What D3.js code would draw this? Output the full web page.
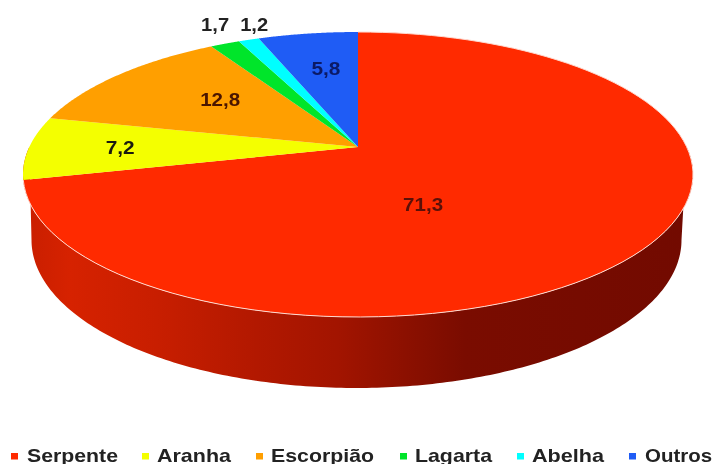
<!DOCTYPE html>
<html>
<head>
<meta charset="utf-8">
<script src="https://cdn.jsdelivr.net/npm/d3@7"></script>
<style>
body { margin: 0; background: #fff; }
svg { filter: blur(0.5px); }
text { font-family: "Liberation Sans", Arial, sans-serif; font-weight: bold; }
</style>
</head>
<body>
<div id="pie"></div>
<script>
var categories = ["Serpente", "Aranha", "Escorpião", "Lagarta", "Abelha", "Outros"];
var values = [71.3, 7.2, 12.8, 1.7, 1.2, 5.8];
var valueLabels = ["71,3", "7,2", "12,8", "1,7", "1,2", "5,8"];
var colors = ["#ff2a00", "#f4ff00", "#ff9f00", "#00e52a", "#00ffff", "#1f5cf5"];
var labelColors = ["#5a1008", "#1a1a10", "#4a1500", "#222", "#222", "#0b1a66"];

var width = 714, height = 464;
var cx = 358, cy = 174.5, rx = 335, ry = 142.5;
var tilt = -0.193; // perspective: moves the pie apex above the middle of the ellipse

var svg = d3.select("#pie").append("svg")
	.attr("width", width)
	.attr("height", height);

var x = d3.scaleLinear().domain([-1, 1]).range([cx - rx, cx + rx]);
var y = d3.scaleLinear().domain([-1, 1]).range([cy - ry, cy + ry]);

// angle + radius on the flat disc -> pixel on the tilted disc
function project(angle, r) {
	var u = r * Math.sin(angle), v = -r * Math.cos(angle);
	var d = 1 + tilt * v;
	return [x(u * Math.sqrt(1 - tilt * tilt) / d), y((v + tilt) / d)];
}

var pie = d3.pie().sort(null).value(function(d) { return d; })(values);
var line = d3.line();

function slicePath(d) {
	var pts = [project(0, 0)];
	d3.range(0, 101).forEach(function(i) {
		pts.push(project(d.startAngle + (d.endAngle - d.startAngle) * i / 100, 1));
	});
	return line(pts) + "Z";
}

var grad = svg.append("defs").append("linearGradient")
	.attr("id", "wall")
	.attr("gradientUnits", "userSpaceOnUse")
	.attr("x1", 23).attr("x2", 693).attr("y1", 0).attr("y2", 0);
[[0, "#c81e00"], [0.07, "#d62200"], [0.2, "#c81e00"], [0.35, "#b21800"], [0.47, "#a21400"], [0.57, "#8c1000"], [0.66, "#7a0c00"], [1, "#720a00"]].forEach(function(s) {
	grad.append("stop").attr("offset", s[0]).attr("stop-color", s[1]);
});

// side wall: top rim going right to left, then the lower half of a narrower ellipse back
var rimTop = [], rimBottom = [];
d3.range(0, 201).forEach(function(i) {
	var a = Math.PI * 0.5 + Math.PI * i / 200;
	rimTop.push(project(a, 1));
	rimBottom.push([356.5 + 325 * Math.sin(a), 240 - 148 * Math.cos(a)]);
});
svg.append("path")
	.attr("d", line(rimTop.concat(rimBottom.reverse())) + "Z")
	.attr("fill", "url(#wall)");

svg.selectAll("path.slice")
	.data(pie)
	.enter().append("path")
	.attr("class", "slice")
	.attr("d", slicePath)
	.style("fill", function(d, i) { return colors[i]; });

// thin light rim where the red top meets the wall
var rimLine = d3.range(0, 101).map(function(i) {
	return project(pie[0].startAngle + (pie[0].endAngle - pie[0].startAngle) * i / 100, 1);
});
svg.append("path")
	.attr("d", line(rimLine))
	.attr("fill", "none")
	.attr("stroke", "#ffd9cf")
	.attr("stroke-width", 1);

// labels hang off the slice mid angle, nudged to where the picture has them
var labelRadius = [0.5, 0.72, 0.62, 1.17, 1.15, 0.62];
var labelNudge = [[-72, 12], [-1, 0], [17, -1], [9, -5], [19, -2], [1, -4]];
var labelWidth = [40, 29, 40, 28, 28, 29];
svg.selectAll("text.value")
	.data(pie)
	.enter().append("text")
	.attr("class", "value")
	.attr("transform", function(d, i) {
		var p = project((d.startAngle + d.endAngle) / 2, labelRadius[i]);
		return "translate(" + (p[0] + labelNudge[i][0]) + "," + (p[1] + labelNudge[i][1]) + ")";
	})
	.attr("text-anchor", "middle")
	.attr("dy", "0.35em")
	.attr("font-size", 19)
	.attr("textLength", function(d, i) { return labelWidth[i]; })
	.attr("lengthAdjust", "spacingAndGlyphs")
	.style("fill", function(d, i) { return labelColors[i]; })
	.text(function(d, i) { return valueLabels[i]; });

// legend
var legendX = [27, 157, 271, 415, 532, 645];
var legendW = [91, 74, 103, 77, 72, 67];
var markerX = [11, 142, 256, 400, 517, 629];
var legend = svg.selectAll("g.legend")
	.data(categories)
	.enter().append("g")
	.attr("class", "legend");
legend.append("rect")
	.attr("x", function(d, i) { return markerX[i]; })
	.attr("y", 453).attr("width", 7).attr("height", 6.5)
	.style("fill", function(d, i) { return colors[i]; });
legend.append("text")
	.attr("x", function(d, i) { return legendX[i]; })
	.attr("y", 461.5)
	.attr("font-size", 19)
	.attr("textLength", function(d, i) { return legendW[i]; })
	.attr("lengthAdjust", "spacingAndGlyphs")
	.attr("fill", "#222")
	.text(function(d) { return d; });
</script>
</body>
</html>
